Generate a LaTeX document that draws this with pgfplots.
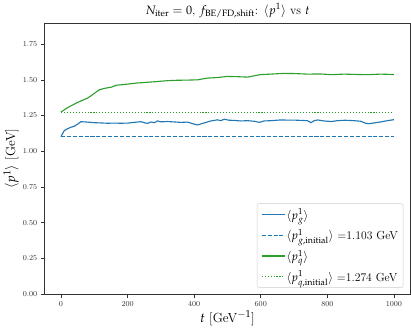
\documentclass[border=0pt]{standalone}
\usepackage{mathpazo}
\usepackage{pgfplots}
\pgfplotsset{compat=1.18}
\definecolor{tabblue}{HTML}{1F77B4}
\definecolor{tabgreen}{HTML}{2CA02C}
\definecolor{spine}{HTML}{333333}
\begin{document}
\begin{tikzpicture}
\begin{axis}[
  scale only axis, width=359bp, height=265bp,
  xmin=-50, xmax=1050, ymin=0, ymax=1.893,
  xtick={0,200,...,1000}, ytick={0,0.25,...,1.75},
  yticklabel style={/pgf/number format/.cd,fixed,fixed zerofill,precision=2},
  xticklabel style={/pgf/number format/1000 sep={}},
  /pgf/number format/assume math mode=true,
  ticklabel style={font=\fontsize{7.5}{9}\selectfont, text=black!80},
  tick align=outside, tick pos=left,
  major tick length=3.5bp,
  axis line style={spine, line width=0.8pt}, tick style={spine, line width=0.6pt},
  title={$N_{\mathrm{iter}}=0$, $f_{\mathrm{BE/FD,shift}}$: $\langle p^1\rangle$ vs $t$},
  title style={font=\fontsize{12}{14}\selectfont, yshift=-4pt},
  xlabel={$t$ [GeV$^{-1}$]}, ylabel={$\langle p^1\rangle$ [GeV]},
  label style={font=\fontsize{13}{15}\selectfont},
  xlabel style={yshift=3pt}, ylabel style={yshift=-3pt},
  legend style={at={(0.98,0.023)}, anchor=south east, font=\fontsize{11.5}{13}\selectfont,
    draw=black!20, rounded corners=2pt, row sep=6.5pt, inner sep=4pt,
    nodes={inner sep=1pt}},
  legend image code/.code={\draw[#1] (0cm,0cm) -- (0.8cm,0cm);},
  legend cell align=left,
]
\addplot[tabblue, line width=1.1pt] coordinates {
(0,1.103) (10,1.145) (20,1.158) (30,1.168) (40,1.175) (50,1.190) (60,1.207)
(80,1.204) (100,1.200) (120,1.198) (140,1.196) (160,1.197) (180,1.196) (200,1.197)
(220,1.202) (240,1.207) (250,1.200) (260,1.195) (270,1.205) (280,1.200) (290,1.212)
(300,1.206) (320,1.208) (340,1.205) (360,1.202) (380,1.204) (400,1.190) (410,1.184)
(430,1.198) (450,1.212) (470,1.220) (480,1.214) (490,1.224) (505,1.217) (520,1.216)
(540,1.212) (560,1.214) (580,1.210) (597,1.202) (610,1.212) (630,1.214) (659,1.219)
(680,1.218) (700,1.218) (720,1.216) (740,1.214) (751,1.200) (760,1.214) (771,1.219)
(790,1.212) (812,1.208) (830,1.214) (853,1.217) (880,1.214) (900,1.210) (915,1.196)
(925,1.193) (940,1.198) (960,1.205) (980,1.214) (1000,1.221)
};
\addlegendentry{$\langle p_g^1\rangle$}
\addplot[tabblue, line width=1.1pt, dash pattern=on 4pt off 1.8pt] coordinates {(0,1.103) (1000,1.103)};
\addlegendentry{$\langle p^1_{g,\mathrm{initial}}\rangle$ =1.103 GeV}
\addplot[tabgreen, line width=1.1pt] coordinates {
(0,1.274) (10,1.290) (20,1.305) (30,1.318) (40,1.330) (50,1.342) (60,1.352)
(70,1.362) (80,1.372) (90,1.388) (100,1.405) (115,1.430) (130,1.440) (150,1.448)
(166,1.462) (200,1.470) (230,1.478) (260,1.483) (289,1.488) (320,1.494) (350,1.497)
(380,1.498) (410,1.500) (440,1.512) (470,1.516) (500,1.524) (530,1.522) (561,1.519)
(580,1.528) (597,1.536) (630,1.540) (668,1.545) (700,1.544) (740,1.540) (780,1.541)
(812,1.536) (850,1.540) (880,1.538) (920,1.536) (960,1.540) (1000,1.537)
};
\addlegendentry{$\langle p_q^1\rangle$}
\addplot[tabgreen, line width=1.1pt, dash pattern=on 1.1pt off 1.8pt] coordinates {(0,1.274) (1000,1.274)};
\addlegendentry{$\langle p^1_{q,\mathrm{initial}}\rangle$ =1.274 GeV}
\end{axis}
\end{tikzpicture}
\end{document}
